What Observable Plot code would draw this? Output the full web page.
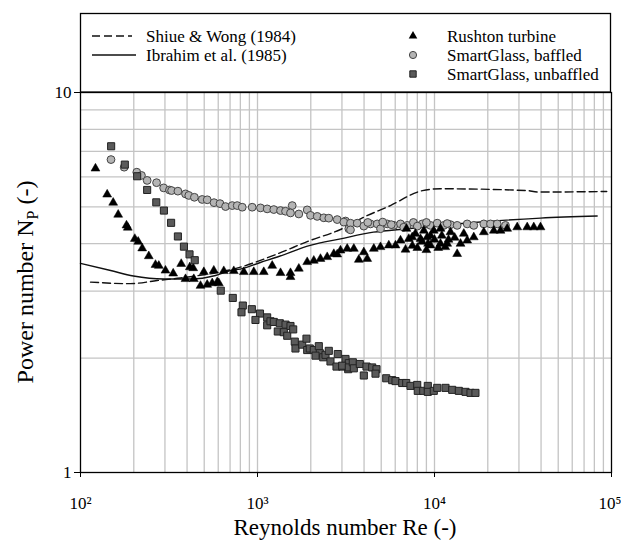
<!DOCTYPE html>
<html>
<head>
<meta charset="utf-8">
<script src="https://cdn.jsdelivr.net/npm/d3@7"></script>
<script src="https://cdn.jsdelivr.net/npm/@observablehq/plot@0.6"></script>
<style>
  html, body { margin: 0; padding: 0; background: #fff; }
</style>
</head>
<body>
<div id="chart"></div>
<script>
// ---- Data ----
const shiueRe = [114, 191, 271, 367, 801, 1294, 1985, 2944, 3995, 5634, 8017, 8558, 10800, 33400, 38000, 94000];
const shiueNp = [3.17, 3.14, 3.20, 3.25, 3.47, 3.76, 4.08, 4.36, 4.70, 5.04, 5.47, 5.52, 5.58, 5.52, 5.47, 5.49];

const ibrahimRe = [100, 148, 199, 294, 418, 579, 704, 801, 1038, 1294, 1985, 2944, 4515, 7010, 10000, 16700, 39700, 83000];
const ibrahimNp = [3.55, 3.40, 3.29, 3.23, 3.23, 3.30, 3.40, 3.43, 3.57, 3.69, 3.96, 4.12, 4.29, 4.38, 4.45, 4.55, 4.67, 4.73];

const rushtonRe = [121.5, 141.5, 153, 163.3, 181.9, 185, 202.7, 211.8, 223.2, 243.1, 265.3, 277, 302, 334, 370.7, 392, 414.6, 433.3, 436.7, 476.4, 497.5, 519.8, 554.8, 566.4, 592, 604.5, 645, 734.7, 836.8, 953, 1085, 1211, 1349, 1536, 1536, 1712, 1909, 2080, 2269, 2476, 2699, 2821, 2944, 3212, 3501, 3736, 3987, 4168, 4541, 4953, 5519, 6022, 6427, 6860, 7159, 7482, 8336, 9095, 9493, 10810, 11800, 13430, 14030, 15300, 16670, 6940, 8701, 9908, 10810, 12310, 14640, 18990, 21630, 23600, 25750, 29330, 33400, 36390, 39710, 7500, 8000, 8500, 9000, 9500, 10000, 10500, 11000, 12000, 13000, 7800, 9200, 11500];
const rushtonNp = [6.31, 5.39, 5.13, 4.77, 4.47, 4.41, 4.12, 4.05, 3.89, 3.71, 3.52, 3.50, 3.40, 3.34, 3.54, 3.23, 3.47, 3.45, 3.23, 3.10, 3.37, 3.12, 3.15, 3.40, 3.17, 3.15, 3.39, 3.39, 3.37, 3.37, 3.37, 3.50, 3.35, 3.35, 3.27, 3.44, 3.58, 3.61, 3.65, 3.69, 3.76, 3.75, 3.84, 3.88, 3.88, 3.63, 3.80, 3.65, 3.88, 3.92, 3.96, 3.96, 4.08, 3.86, 4.12, 4.16, 4.12, 4.16, 3.96, 4.00, 4.00, 3.76, 4.00, 4.08, 4.16, 4.38, 4.33, 4.33, 4.38, 4.29, 4.25, 4.29, 4.33, 4.33, 4.38, 4.42, 4.42, 4.42, 4.42, 3.95, 3.90, 4.05, 3.85, 4.20, 4.10, 3.90, 4.20, 4.10, 4.15, 4.25, 4.00, 3.92];

const baffledRe = [148.7, 176.5, 208, 221, 238, 269, 295, 318, 327, 355, 392, 409, 440, 487, 520, 568, 614, 660, 720, 768, 820, 933, 1040, 1134, 1236, 1349, 1440, 1571, 1536, 1712, 1909, 1993, 2175, 2370, 2528, 2821, 3142, 3280, 3073, 3352, 3352, 3659, 3987, 4349, 4746, 4953, 5406, 5891, 6427, 7013, 8521, 9493, 10360, 11290, 12310, 13430, 15300, 16670, 18990, 20720, 22610, 25180, 4200, 5100, 5700, 6700, 7600, 8000, 9000, 11800];
const baffledNp = [6.66, 6.36, 6.17, 6.05, 5.87, 5.79, 5.61, 5.54, 5.52, 5.50, 5.41, 5.36, 5.30, 5.23, 5.22, 5.13, 5.10, 5.01, 5.04, 5.04, 4.99, 4.99, 4.97, 4.94, 4.92, 4.89, 4.87, 5.04, 4.82, 4.79, 4.91, 4.75, 4.72, 4.68, 4.67, 4.63, 4.59, 4.38, 4.56, 4.53, 4.35, 4.53, 4.45, 4.51, 4.51, 4.38, 4.51, 4.47, 4.51, 4.47, 4.51, 4.47, 4.53, 4.47, 4.49, 4.47, 4.51, 4.47, 4.51, 4.51, 4.51, 4.47, 4.55, 4.56, 4.49, 4.42, 4.55, 4.45, 4.55, 4.52];

const unbaffledRe = [149, 178, 209, 238, 268, 296, 325, 355, 384, 413, 442, 620, 725, 826, 812, 929, 1033, 974, 1134, 1134, 1184, 1236, 1337, 1440, 1302, 1408, 1472, 1536, 1591, 1624, 1639, 1789, 1891, 1909, 1974, 2080, 2220, 2249, 2127, 2351, 2423, 2528, 2584, 2842, 2795, 3009, 3142, 3280, 3254, 3009, 3280, 3455, 3501, 3784, 3987, 4129, 4446, 4702, 4642, 5336, 5768, 6022, 6570, 6921, 7318, 7988, 8044, 8636, 9166, 9166, 9908, 10360, 11540, 12590, 13720, 14970, 15970, 17040];
const unbaffledNp = [7.22, 6.46, 6.02, 5.54, 5.14, 4.89, 4.54, 4.18, 3.93, 3.75, 3.62, 3.01, 2.88, 2.75, 2.64, 2.69, 2.62, 2.52, 2.56, 2.44, 2.50, 2.49, 2.47, 2.45, 2.35, 2.34, 2.29, 2.43, 2.38, 2.21, 2.12, 2.17, 2.25, 2.10, 2.12, 2.10, 2.15, 2.06, 2.03, 2.01, 2.04, 2.09, 1.96, 2.05, 1.90, 1.90, 1.99, 1.94, 1.87, 1.91, 1.89, 1.95, 1.88, 1.93, 1.80, 1.90, 1.89, 1.87, 1.82, 1.77, 1.75, 1.74, 1.72, 1.72, 1.69, 1.70, 1.64, 1.64, 1.69, 1.63, 1.64, 1.67, 1.67, 1.65, 1.64, 1.63, 1.62, 1.62];

// ---- Axis ticks & grid ----
const xTicks = [100, 1000, 10000, 100000];
const xTickLabels = ["10²", "10³", "10⁴", "10⁵"];
const yTicks = [1, 10];
const yTickLabels = ["1", "10"];
const xGrid = [200, 300, 400, 500, 600, 700, 800, 900, 1000, 2000, 3000, 4000, 5000, 6000, 7000, 8000, 9000, 10000, 20000, 30000, 40000, 50000, 60000, 70000, 80000, 90000];
const yGrid = [2, 3, 4, 5, 6, 7, 8, 9];

const lineLabels = ["Shiue & Wong (1984)", "Ibrahim et al. (1985)"];
const seriesLabels = ["Rushton turbine", "SmartGlass, baffled", "SmartGlass, unbaffled"];
const xTitle = "Reynolds number Re (-)";

// ---- Build tables ----
const zip = (xs, ys) => xs.map((x, i) => ({Re: x, Np: ys[i]}));
const shiue = zip(shiueRe, shiueNp);
const ibrahim = zip(ibrahimRe, ibrahimNp);
const rushton = zip(rushtonRe, rushtonNp);
const baffled = zip(baffledRe, baffledNp);
const unbaffled = zip(unbaffledRe, unbaffledNp);

const FONT = "'Liberation Serif', 'DejaVu Serif', serif";
const gridColor = "#c4c4c4";

const svg = Plot.plot({
  width: 621,
  height: 540,
  marginLeft: 80,
  marginRight: 10,
  marginTop: 92,
  marginBottom: 68,
  style: {fontFamily: FONT, fontSize: "16px", background: "#fff", color: "#000"},
  x: {type: "log", domain: [100, 100000]},
  y: {type: "log", domain: [1, 10]},
  marks: [
    Plot.ruleX(xGrid, {stroke: gridColor, strokeWidth: 1.3}),
    Plot.ruleY(yGrid, {stroke: gridColor, strokeWidth: 1.3}),
    Plot.line(shiue, {x: "Re", y: "Np", stroke: "#111", strokeWidth: 1.4, strokeDasharray: "8,4", curve: "monotone-x"}),
    Plot.line(ibrahim, {x: "Re", y: "Np", stroke: "#111", strokeWidth: 1.4, curve: "monotone-x"}),
    Plot.dot(baffled, {x: "Re", y: "Np", symbol: "circle", r: 3.9, fill: "#b4b4b4", stroke: "#444", strokeWidth: 1}),
    Plot.dot(rushton, {x: "Re", y: "Np", symbol: "triangle", r: 3.3, fill: "#000", stroke: "#000", strokeWidth: 0.5}),
    Plot.dot(unbaffled, {x: "Re", y: "Np", symbol: "square", r: 4, fill: "#5a5a5a", stroke: "#222", strokeWidth: 1}),
    Plot.frame({stroke: "#000", strokeWidth: 1.3}),
    Plot.axisX(xTicks, {tickFormat: d => xTickLabels[xTicks.indexOf(d)], tickSize: 5, tickPadding: 19, fontSize: 17, label: null, stroke: "#000", fill: "#000"}),
    Plot.axisY(yTicks, {tickFormat: d => yTickLabels[yTicks.indexOf(d)], tickSize: 6, tickPadding: 3, fontSize: 17, label: null, stroke: "#000", fill: "#000"})
  ]
});

document.getElementById("chart").appendChild(svg);

// shift the last x tick label so it stays inside the picture (as in the reference)
const xLabelNodes = d3.select(svg).selectAll("g[aria-label='x-axis tick label'] text").nodes();
if (xLabelNodes.length) {
  const last = xLabelNodes[xLabelNodes.length - 1];
  d3.select(last).attr("text-anchor", "end").attr("dx", 10);
}

// ---- Legend box and titles ----
const g = d3.select(svg).append("g").attr("font-family", FONT).attr("fill", "#000").attr("text-anchor", "start");
g.append("rect").attr("x", 80.5).attr("y", 13.5).attr("width", 530).attr("height", 78.5)
  .attr("fill", "#fff").attr("stroke", "#000").attr("stroke-width", 1.3);

const rowY = [36, 55, 74];
g.append("line").attr("x1", 92).attr("x2", 132).attr("y1", rowY[0]).attr("y2", rowY[0])
  .attr("stroke", "#111").attr("stroke-width", 1.4).attr("stroke-dasharray", "8,4");
g.append("line").attr("x1", 92).attr("x2", 136).attr("y1", rowY[1]).attr("y2", rowY[1])
  .attr("stroke", "#111").attr("stroke-width", 1.4);
lineLabels.forEach((t, i) => {
  g.append("text").attr("x", 146).attr("y", rowY[i]).attr("dy", "0.35em").attr("font-size", 17).attr("text-anchor", "start").text(t);
});

const tri = d3.symbol(d3.symbolTriangle, Math.PI * 3.2 * 3.2)();
const cir = d3.symbol(d3.symbolCircle, Math.PI * 3.6 * 3.6)();
const sq = d3.symbol(d3.symbolSquare, Math.PI * 3.6 * 3.6)();
g.append("path").attr("d", tri).attr("transform", `translate(413,${rowY[0]})`).attr("fill", "#000");
g.append("path").attr("d", cir).attr("transform", `translate(413,${rowY[1]})`).attr("fill", "#b4b4b4").attr("stroke", "#444");
g.append("path").attr("d", sq).attr("transform", `translate(413,${rowY[2]})`).attr("fill", "#5a5a5a").attr("stroke", "#222");
seriesLabels.forEach((t, i) => {
  g.append("text").attr("x", 447).attr("y", rowY[i]).attr("dy", "0.35em").attr("font-size", 17).attr("text-anchor", "start").text(t);
});

// x title
g.append("text").attr("x", 345).attr("y", 535).attr("text-anchor", "middle").attr("font-size", 23).text(xTitle);
// y title with subscript
const yt = g.append("text").attr("transform", "translate(33,282) rotate(-90)").attr("text-anchor", "middle").attr("font-size", 24);
yt.append("tspan").text("Power number N");
yt.append("tspan").attr("font-size", 16).attr("dy", 5).text("P");
yt.append("tspan").attr("dy", -5).text(" (-)");
</script>
</body>
</html>
